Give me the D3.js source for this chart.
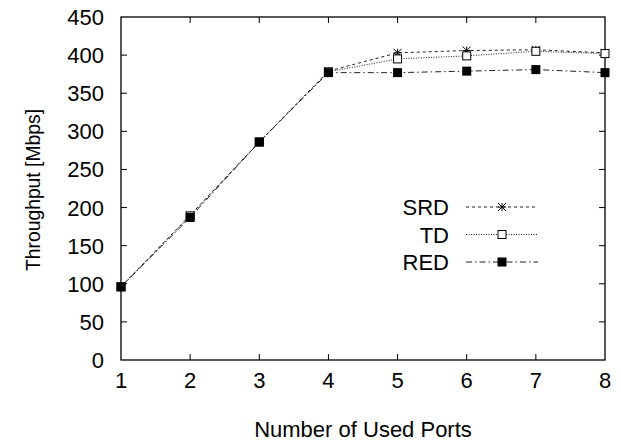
<!DOCTYPE html>
<html>
<head>
<meta charset="utf-8">
<script src="https://cdn.jsdelivr.net/npm/d3@7"></script>
<style>
  body { margin: 0; background: #fff; }
  text { font-family: "Liberation Sans", Arial, sans-serif; fill: #000; }
</style>
</head>
<body>
<div id="chart"></div>
<script>
// data
var ports = [1, 2, 3, 4, 5, 6, 7, 8];
var srd = [96, 190, 286, 379, 403, 406, 407, 403];
var td  = [96, 189, 286, 378, 395, 399, 405, 402];
var red = [96, 187, 286, 377, 377, 379, 381, 377];
var yTicks = [0, 50, 100, 150, 200, 250, 300, 350, 400, 450];

var svgWidth = 621, svgHeight = 445;
var margin = { top: 17, right: 16, bottom: 85, left: 121 };
var width = svgWidth - margin.left - margin.right;
var height = svgHeight - margin.top - margin.bottom;
var fs = 22;

var svg = d3.select("#chart").append("svg")
  .attr("width", svgWidth)
  .attr("height", svgHeight);

var g = svg.append("g")
  .attr("transform", `translate(${margin.left}, ${margin.top})`);

var x = d3.scaleLinear().domain([1, 8]).range([0, width]);
var y = d3.scaleLinear().domain([0, 450]).range([height, 0]);

function label(sel, tx, ty, anchor, str) {
  return sel.append("text")
    .attr("x", tx).attr("y", ty)
    .attr("text-anchor", anchor).attr("font-size", fs)
    .text(str);
}

// frame
g.append("rect")
  .attr("width", width).attr("height", height)
  .attr("fill", "none").attr("stroke", "#000").attr("stroke-width", 1.3);

// ticks, mirrored inside on all sides
var tl = 6;
g.selectAll(".xt").data(ports.slice(1, -1)).enter().append("path")
  .attr("d", d => `M${x(d)},${height}v${-tl}M${x(d)},0v${tl}`)
  .attr("stroke", "#000");
g.selectAll(".yt").data(yTicks.slice(1, -1)).enter().append("path")
  .attr("d", d => `M0,${y(d)}h${tl}M${width},${y(d)}h${-tl}`)
  .attr("stroke", "#000");

// tick labels
ports.forEach(d => label(g, x(d), height + 28, "middle", d));
yTicks.forEach(d => label(g, -17, y(d) + 8, "end", d));

// axis titles
svg.append("text")
  .attr("transform", "translate(40, 190) rotate(-90) scale(0.92,1)")
  .attr("text-anchor", "middle").attr("font-size", 21)
  .text("Throughput [Mbps]");
label(svg, margin.left + width / 2, 437, "middle", "Number of Used Ports");

var series = [
  { name: "SRD", values: srd, dash: "3,3", marker: "star" },
  { name: "TD", values: td, dash: "1,1.5", marker: "open" },
  { name: "RED", values: red, dash: "6,3,1.5,3", marker: "filled" }
];

var line = d3.line().x((d, i) => x(ports[i])).y(d => y(d));

function drawMarker(sel, type, cx, cy) {
  if (type === "star") {
    var s = 4;
    sel.append("path")
      .attr("d", `M${cx - s},${cy}h${2 * s}M${cx},${cy - s}v${2 * s}M${cx - s},${cy - s}l${2 * s},${2 * s}M${cx - s},${cy + s}l${2 * s},${-2 * s}`)
      .attr("stroke", "#000").attr("stroke-width", 1);
  } else if (type === "open") {
    sel.append("rect")
      .attr("x", cx - 4).attr("y", cy - 4).attr("width", 8).attr("height", 8)
      .attr("fill", "#fff").attr("stroke", "#000").attr("stroke-width", 1);
  } else {
    sel.append("rect")
      .attr("x", cx - 4.5).attr("y", cy - 4.5).attr("width", 9).attr("height", 9)
      .attr("fill", "#000");
  }
}

series.forEach(function(s) {
  g.append("path")
    .datum(s.values)
    .attr("d", line)
    .attr("fill", "none")
    .attr("stroke", "#222")
    .attr("stroke-width", 1)
    .attr("stroke-dasharray", s.dash);
});
series.forEach(function(s) {
  var mg = g.append("g");
  s.values.forEach(function(v, i) { drawMarker(mg, s.marker, x(ports[i]), y(v)); });
});

// legend
var legend = svg.append("g");
series.forEach(function(s, i) {
  var ly = 207 + i * 27.5;
  label(legend, 449, ly + 8, "end", s.name);
  legend.append("path")
    .attr("d", `M466,${ly}H538`)
    .attr("stroke", "#222").attr("stroke-width", 1)
    .attr("stroke-dasharray", s.dash);
  drawMarker(legend, s.marker, 502, ly);
});
</script>
</body>
</html>
